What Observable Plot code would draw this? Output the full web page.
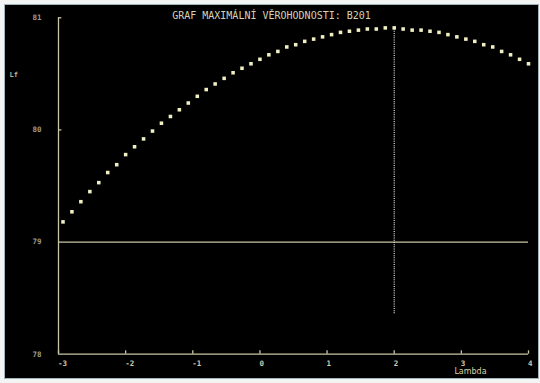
<!DOCTYPE html>
<html>
<head>
<meta charset="utf-8">
<script src="https://cdn.jsdelivr.net/npm/d3@7"></script>
<script src="https://cdn.jsdelivr.net/npm/@observablehq/plot@0.6"></script>
<style>
  html, body { margin: 0; padding: 0; background: #f3f5f5; }
  #chart { position: absolute; left: 5px; top: 5px; }
  #chart svg { display: block; outline: 1px solid #9fb4b8; }
</style>
</head>
<body>
<div id="chart"></div>
<script>
// Box-Cox lambda grid and the log-likelihood Lf at each value
const lambda = [
  -2.933, -2.8, -2.667, -2.533, -2.4, -2.267, -2.133, -2, -1.867, -1.733,
  -1.6, -1.467, -1.333, -1.2, -1.067, -0.933, -0.8, -0.667, -0.533, -0.4,
  -0.267, -0.133, 0, 0.133, 0.267, 0.4, 0.533, 0.667, 0.8, 0.933,
  1.067, 1.2, 1.333, 1.467, 1.6, 1.733, 1.867, 2, 2.133, 2.267,
  2.4, 2.533, 2.667, 2.8, 2.933, 3.067, 3.2, 3.333, 3.467, 3.6,
  3.733, 3.867, 4
];
const lf = [
  79.18, 79.27, 79.36, 79.45, 79.53, 79.62, 79.69, 79.78, 79.85, 79.92,
  79.99, 80.06, 80.12, 80.18, 80.24, 80.30, 80.36, 80.41, 80.46, 80.51,
  80.55, 80.59, 80.63, 80.67, 80.70, 80.74, 80.76, 80.79, 80.81, 80.83,
  80.85, 80.87, 80.88, 80.89, 80.90, 80.90, 80.91, 80.91, 80.90, 80.89,
  80.89, 80.88, 80.87, 80.85, 80.83, 80.81, 80.79, 80.76, 80.74, 80.70,
  80.67, 80.63, 80.59
];
const xTicks = [-3, -2, -1, 0, 1, 2, 3, 4];
const yTicks = [78, 79, 80, 81];
const yMinorTicks = [80, 81];
const refLevel = [79];          // horizontal reference line
const bestLambda = [2];         // lambda of maximum likelihood
const dropEnd = 78.36;          // lower end of the dotted marker
const titleText = "GRAF MAXIMÁLNÍ VĚROHODNOSTI: B201";

const points = lambda.map((l, i) => ({lambda: l, lf: lf[i]}));
const lfMax = d3.max(lf);

const axisColor = "#c9c5a6";
const mono = "'DejaVu Sans Mono', monospace";

const chart = Plot.plot({
  width: 533,
  height: 373,
  marginLeft: 53,
  marginRight: 10,
  marginTop: 12.3,
  marginBottom: 24.3,
  style: {background: "#000", fontFamily: mono},
  x: {domain: [-3, 4]},
  y: {domain: [78, 81]},
  marks: [
    // axes frame lines
    Plot.ruleY([78], {x1: -3, x2: 4, stroke: axisColor, strokeWidth: 1.3}),
    Plot.ruleX([-3], {y1: 78, y2: 81, stroke: axisColor, strokeWidth: 1.3}),
    // reference level
    Plot.ruleY(refLevel, {x1: -3, x2: 4, stroke: axisColor, strokeWidth: 1.3}),
    // short inward ticks
    Plot.ruleX(xTicks, {y1: 78, y2: 78.03, stroke: axisColor, strokeWidth: 1.3}),
    Plot.ruleY(yMinorTicks, {x1: -3, x2: -2.95, stroke: axisColor, strokeWidth: 1.3}),
    // dotted marker at the maximum
    Plot.ruleX(bestLambda, {y1: dropEnd, y2: lfMax, stroke: "#e8e8e0", strokeWidth: 1.2, strokeDasharray: "1,1.2"}),
    // likelihood points
    Plot.dot(points, {x: "lambda", y: "lf", symbol: "square", r: 2.0, fill: "#f0efc2"}),
    // tick labels
    Plot.axisX({ticks: xTicks, tickSize: 0, tickPadding: 6, textAnchor: "start", dx: -0.5,
      tickFormat: d => String(d), fontSize: 7.5, fontWeight: "bold", fill: "#cfcbae", label: null}),
    Plot.axisY({ticks: yTicks, tickSize: 0, tickPadding: 17, tickFormat: d => String(d),
      fontSize: 7.5, fontWeight: "bold", fill: "#9d9c92", label: null}),
    // titles
    Plot.text([titleText], {frameAnchor: "top", dx: -22, dy: -2.3, lineAnchor: "middle",
      fontSize: 10, fill: "#d6d2b4", fontFamily: mono, letterSpacing: "0.4px"}),
    Plot.text(["Lf"], {frameAnchor: "top-left", dx: -49, dy: 56.7, lineAnchor: "middle",
      fontSize: 7, fontWeight: "bold", fill: "#b8b6a4"}),
    Plot.text(["Lambda"], {frameAnchor: "bottom", dx: 177, dy: 17.5, lineAnchor: "middle",
      fontSize: 8, fontFamily: "'DejaVu Sans', sans-serif", fill: "#d9d3a6"})
  ]
});

document.getElementById("chart").appendChild(chart);
</script>
</body>
</html>
